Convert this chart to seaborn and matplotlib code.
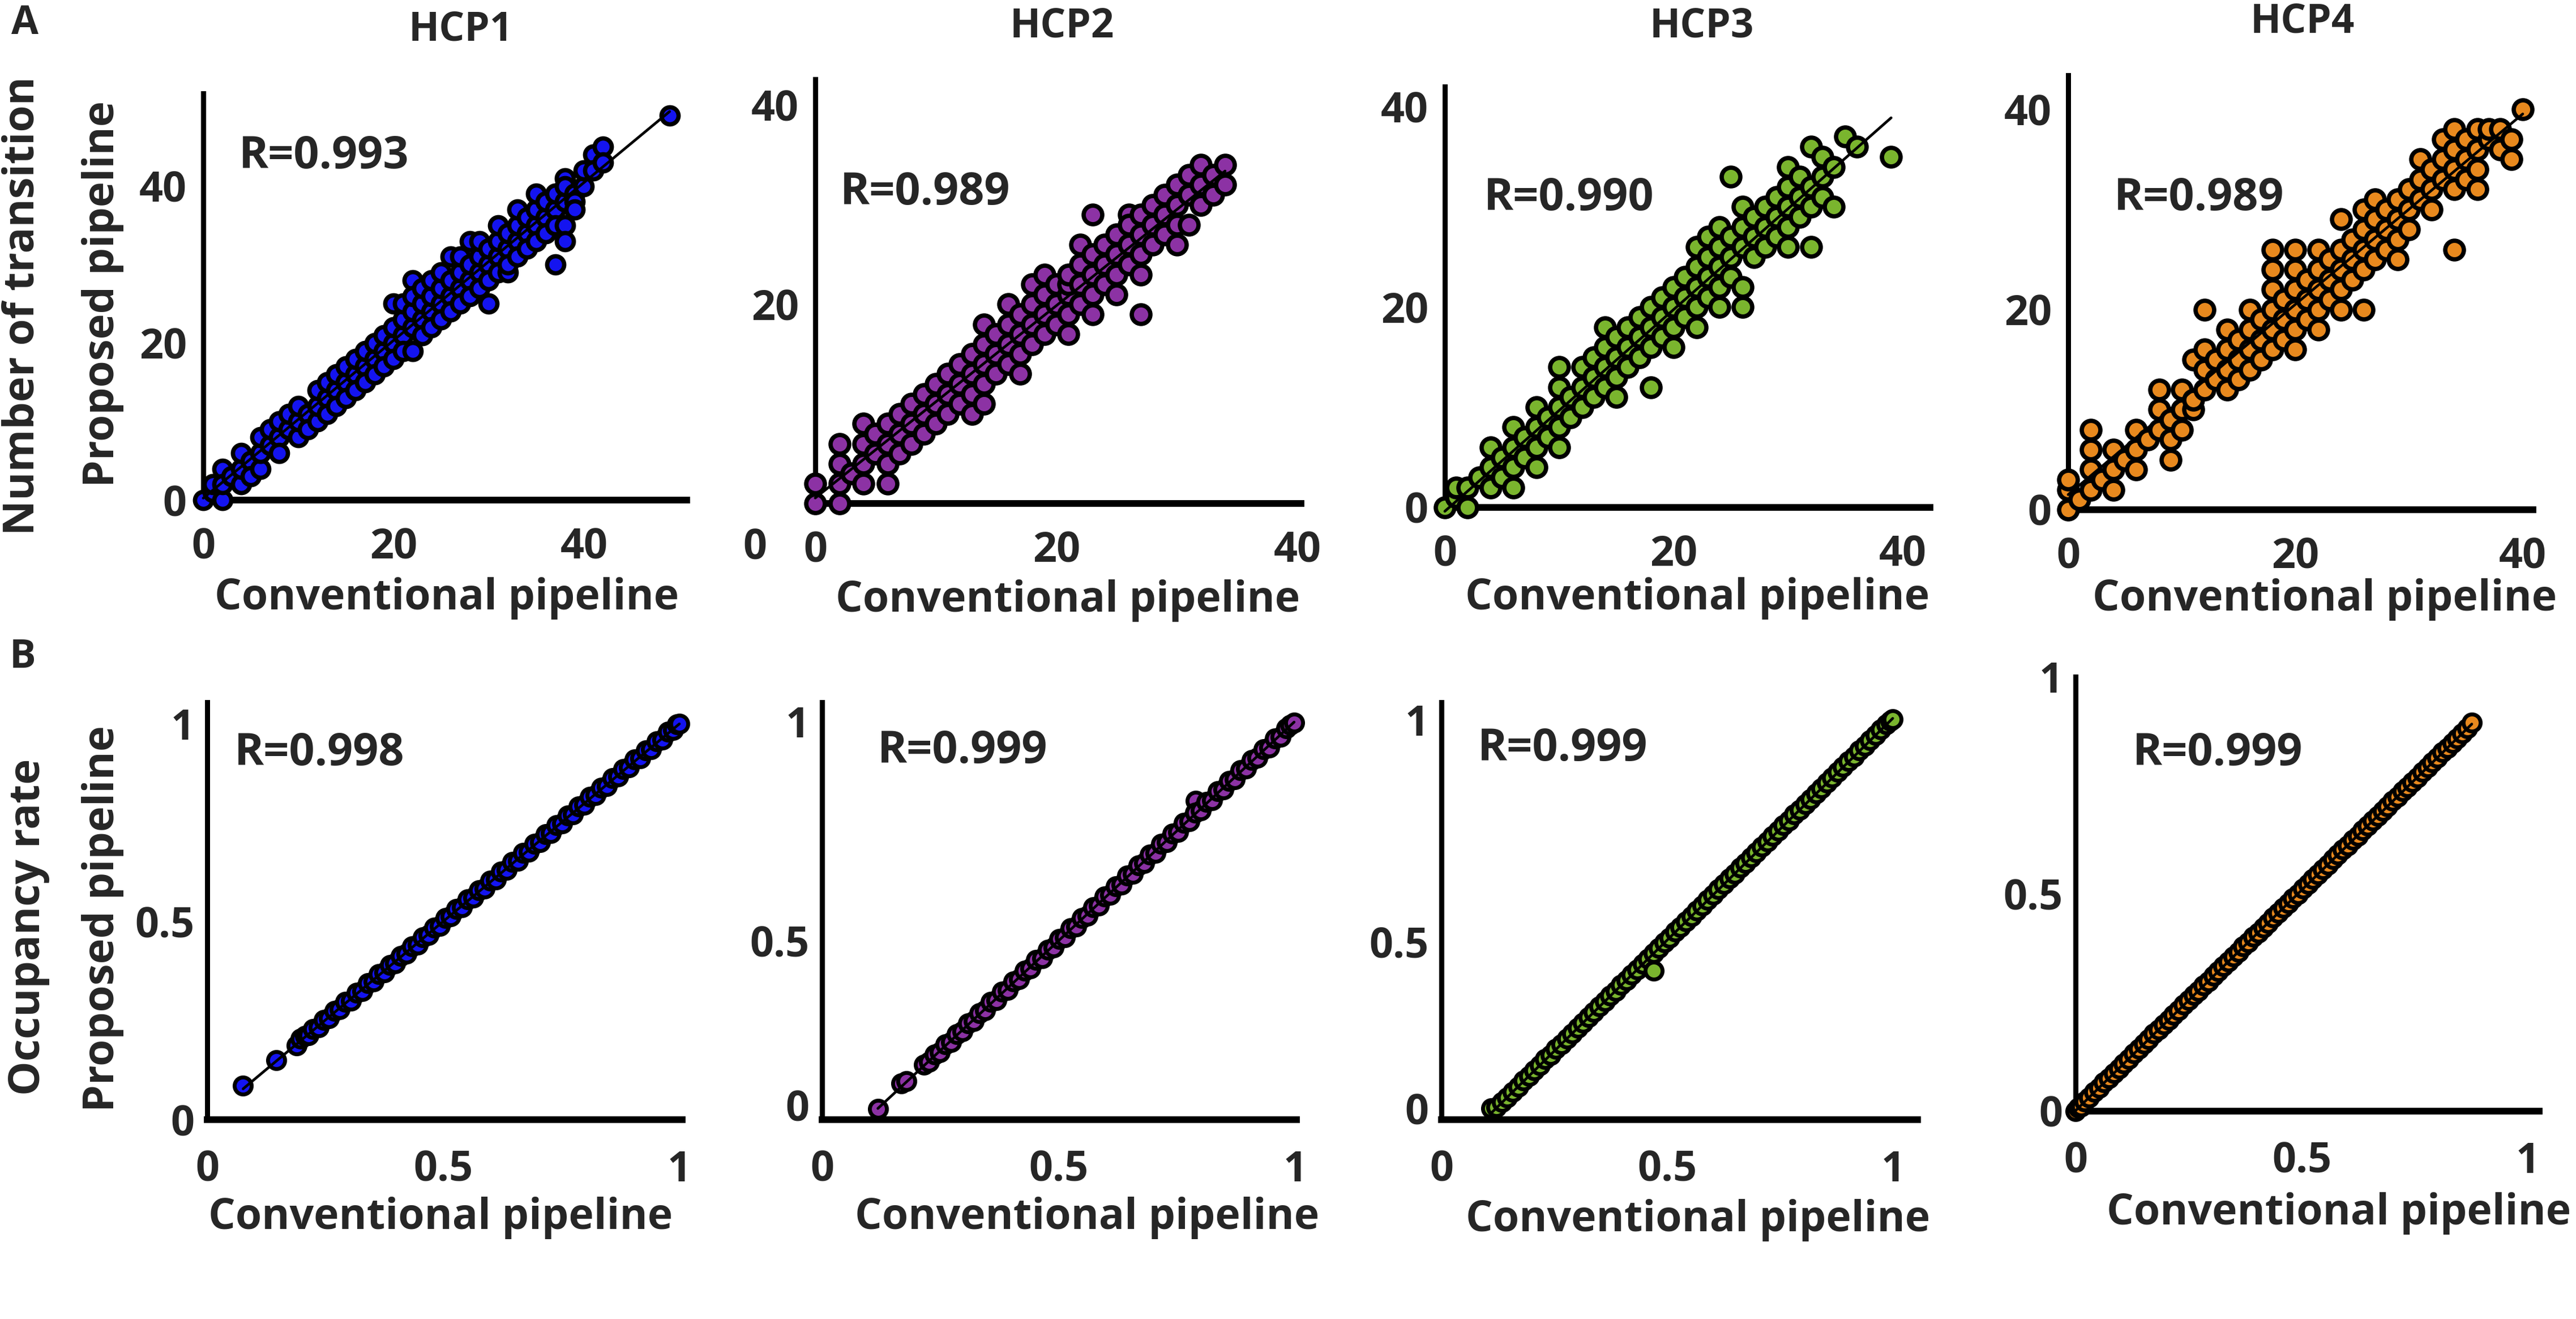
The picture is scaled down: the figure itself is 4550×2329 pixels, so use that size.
import numpy as np
import pandas as pd
import matplotlib
matplotlib.use("Agg")
import matplotlib.pyplot as plt
import seaborn as sns

# ---------------- data ----------------
panel_titles = ["HCP1", "HCP2", "HCP3", "HCP4"]
panel_colors = ["#1414F0", "#8C32A4", "#7AB52E", "#E8891E"]
r_transition = ["R=0.993", "R=0.989", "R=0.990", "R=0.989"]
r_occupancy = ["R=0.998", "R=0.999", "R=0.999", "R=0.999"]
row_names = ["Number of transition", "Occupancy rate"]
x_name = "Conventional pipeline"
y_name = "Proposed pipeline"
transition_ticks = [0, 20, 40]
occupancy_ticks = [0, 0.5, 1]
occupancy_tick_labels = ["0", "0.5", "1"]

# (conventional, proposed) number of transitions
hcp1_transition = [(0,0),(1,1),(2,0),(1,2),(2,4),(2,2),(3,3),(4,2),(4,4),(4,6),(5,5),(5,3),(6,4),(6,6),(6,8),
    (7,7),(7,9),(8,8),(8,10),(8,6),(9,9),(9,11),(10,8),(10,10),(10,12),(11,11),(11,9),(12,10),(12,12),(12,14),
    (13,13),(13,11),(13,15),(14,14),(14,16),(14,12),(15,15),(15,13),(15,17),(16,16),(16,18),(16,14),(17,17),
    (17,15),(17,19),(18,18),(18,20),(18,16),(19,19),(19,21),(19,17),(20,20),(20,22),(20,25),(20,18),(21,21),
    (21,23),(21,19),(21,25),(22,22),(22,19),(22,24),(22,28),(22,26),(23,23),(23,21),(23,25),(23,27),(24,24),
    (24,22),(24,26),(24,28),(25,25),(25,23),(25,27),(25,29),(26,26),(26,24),(26,28),(26,31),(27,27),(27,25),
    (27,29),(27,31),(28,28),(28,26),(28,30),(28,33),(29,29),(29,27),(29,31),(29,33),(30,30),(30,25),(30,28),
    (30,32),(31,31),(31,29),(31,33),(31,35),(32,32),(32,29),(32,34),(32,30),(33,33),(33,31),(33,35),(33,37),
    (34,34),(34,32),(34,36),(35,35),(35,33),(35,37),(35,39),(36,36),(36,34),(36,38),(37,37),(37,30),(37,35),
    (37,39),(38,38),(38,35),(38,33),(38,41),(38,40),(39,39),(39,38),(39,37),(40,40),(40,42),(41,44),(41,42),
    (42,45),(42,43),(49,49)]
hcp2_transition = [(0,0),(0,2),(2,0),(2,2),(2,4),(2,6),(3,3),(4,2),(4,4),(4,6),(4,8),(5,5),(5,7),(6,2),(6,4),
    (6,6),(6,8),(7,7),(7,9),(7,5),(8,6),(8,8),(8,10),(9,9),(9,7),(9,11),(10,8),(10,10),(10,12),(11,11),(11,9),
    (11,13),(12,10),(12,12),(12,14),(13,9),(13,13),(13,11),(13,15),(14,10),(14,12),(14,14),(14,18),(14,16),
    (15,13),(15,15),(15,17),(16,14),(16,16),(16,18),(16,20),(17,13),(17,17),(17,19),(17,15),(18,16),(18,18),
    (18,22),(18,20),(19,19),(19,21),(19,23),(19,17),(20,18),(20,20),(20,22),(21,17),(21,19),(21,21),(21,22),
    (21,23),(22,20),(22,22),(22,24),(22,26),(23,19),(23,21),(23,23),(23,25),(23,29),(24,22),(24,24),(24,26),
    (25,21),(25,23),(25,25),(25,27),(26,24),(26,26),(26,29),(26,28),(27,19),(27,23),(27,25),(27,27),(27,29),
    (28,26),(28,28),(28,30),(29,27),(29,29),(29,31),(30,26),(30,28),(30,30),(30,32),(31,28),(31,31),(31,33),
    (32,30),(32,32),(32,34),(33,31),(33,33),(34,32),(34,34)]
hcp3_transition = [(0,0),(1,1),(1,2),(2,0),(2,2),(3,3),(4,2),(4,4),(4,6),(5,5),(5,3),(6,2),(6,4),(6,6),(6,8),
    (7,7),(7,5),(8,4),(8,6),(8,8),(8,10),(9,9),(9,7),(10,6),(10,8),(10,10),(10,14),(10,12),(11,11),(11,9),
    (12,10),(12,12),(12,14),(13,13),(13,11),(13,15),(14,12),(14,14),(14,18),(14,16),(15,11),(15,15),(15,13),
    (15,17),(16,14),(16,16),(16,18),(17,17),(17,15),(17,19),(18,12),(18,16),(18,18),(18,20),(19,19),(19,17),
    (19,21),(20,16),(20,18),(20,20),(20,22),(21,21),(21,19),(21,23),(22,18),(22,20),(22,22),(22,24),(22,26),
    (23,23),(23,21),(23,25),(23,27),(24,20),(24,22),(24,24),(24,26),(24,28),(25,25),(25,23),(25,27),(25,33),
    (26,20),(26,22),(26,26),(26,28),(26,30),(27,27),(27,25),(27,29),(28,26),(28,28),(28,30),(29,29),(29,31),
    (29,27),(30,26),(30,28),(30,30),(30,32),(30,34),(31,31),(31,29),(31,33),(32,26),(32,30),(32,32),(32,36),
    (33,33),(33,35),(33,31),(34,30),(34,34),(35,37),(36,36),(39,35)]
hcp4_transition = [(0,0),(0,2),(0,3),(1,1),(2,2),(2,4),(2,6),(2,8),(3,3),(4,4),(4,6),(4,2),(5,5),(6,4),(6,6),
    (6,8),(7,7),(8,8),(8,10),(8,12),(9,5),(9,7),(9,9),(10,10),(10,12),(10,8),(11,10),(11,15),(11,11),(12,12),
    (12,14),(12,16),(12,20),(13,13),(13,15),(14,12),(14,14),(14,16),(14,18),(15,15),(15,13),(15,17),(16,14),
    (16,16),(16,18),(16,20),(17,17),(17,19),(17,15),(18,16),(18,18),(18,20),(18,22),(18,24),(18,26),(19,19),
    (19,21),(19,17),(20,16),(20,18),(20,20),(20,22),(20,24),(20,26),(21,21),(21,19),(21,23),(22,18),(22,20),
    (22,22),(22,24),(22,26),(23,23),(23,21),(23,25),(24,20),(24,22),(24,24),(24,26),(24,29),(25,25),(25,23),
    (25,27),(26,20),(26,24),(26,26),(26,28),(26,30),(27,27),(27,25),(27,29),(27,31),(28,26),(28,28),(28,30),
    (29,25),(29,29),(29,31),(29,27),(30,28),(30,30),(30,32),(31,31),(31,33),(31,35),(32,30),(32,32),(32,34),
    (33,33),(33,35),(33,37),(34,26),(34,32),(34,34),(34,36),(34,38),(35,35),(35,33),(35,37),(36,32),(36,34),
    (36,36),(36,38),(37,37),(37,38),(38,36),(38,38),(39,35),(39,37),(40,40)]

# (conventional, proposed) occupancy rate
hcp1_occupancy = [(0.076,0.086),(0.146,0.150),(0.190,0.188),(0.198,0.204),(0.207,0.211),(0.215,0.213),
    (0.224,0.229),(0.236,0.233),(0.247,0.251),(0.258,0.256),(0.270,0.274),(0.281,0.279),(0.293,0.297),
    (0.305,0.301),(0.316,0.320),(0.328,0.325),(0.340,0.344),(0.352,0.349),(0.363,0.367),(0.375,0.372),
    (0.387,0.391),(0.398,0.395),(0.410,0.414),(0.422,0.419),(0.434,0.438),(0.446,0.442),(0.457,0.461),
    (0.469,0.466),(0.481,0.485),(0.493,0.489),(0.505,0.509),(0.516,0.513),(0.528,0.532),(0.540,0.536),
    (0.552,0.556),(0.563,0.560),(0.575,0.579),(0.587,0.583),(0.599,0.603),(0.611,0.607),(0.622,0.626),
    (0.634,0.630),(0.646,0.650),(0.658,0.654),(0.669,0.673),(0.681,0.677),(0.693,0.697),(0.705,0.701),
    (0.717,0.721),(0.728,0.724),(0.740,0.744),(0.752,0.748),(0.764,0.768),(0.775,0.771),(0.787,0.791),
    (0.799,0.795),(0.811,0.815),(0.823,0.819),(0.834,0.838),(0.846,0.842),(0.858,0.862),(0.870,0.866),
    (0.881,0.885),(0.893,0.889),(0.905,0.909),(0.917,0.913),(0.929,0.933),(0.940,0.936),(0.952,0.956),
    (0.964,0.960),(0.976,0.980),(0.987,0.984),(0.995,0.998),(1.000,1.000)]
hcp2_occupancy = [(0.118,0.117),(0.168,0.176),(0.178,0.181),(0.215,0.218),(0.226,0.224),(0.238,0.241),
    (0.249,0.247),(0.261,0.265),(0.273,0.270),(0.285,0.288),(0.297,0.294),(0.309,0.313),(0.321,0.318),
    (0.333,0.336),(0.345,0.342),(0.357,0.361),(0.369,0.365),(0.381,0.385),(0.393,0.389),(0.405,0.408),
    (0.417,0.413),(0.429,0.433),(0.441,0.437),(0.453,0.457),(0.465,0.461),(0.477,0.480),(0.489,0.485),
    (0.501,0.505),(0.513,0.509),(0.525,0.529),(0.537,0.533),(0.549,0.553),(0.561,0.557),(0.573,0.577),
    (0.585,0.581),(0.597,0.601),(0.609,0.605),(0.621,0.625),(0.633,0.629),(0.645,0.649),(0.657,0.653),
    (0.669,0.673),(0.681,0.677),(0.693,0.697),(0.705,0.701),(0.717,0.721),(0.729,0.725),(0.741,0.745),
    (0.753,0.749),(0.765,0.769),(0.777,0.773),(0.790,0.820),(0.789,0.793),(0.801,0.797),(0.813,0.817),
    (0.825,0.821),(0.837,0.841),(0.849,0.845),(0.861,0.865),(0.873,0.869),(0.885,0.889),(0.897,0.893),
    (0.909,0.913),(0.921,0.917),(0.933,0.937),(0.945,0.941),(0.957,0.961),(0.969,0.965),(0.981,0.985),
    (0.990,0.992),(0.998,0.998)]
hcp3_occupancy = [(0.110,0.125),(0.122,0.128),(0.134,0.139),(0.146,0.150),(0.158,0.163),(0.170,0.174),
    (0.182,0.188),(0.194,0.198),(0.206,0.211),(0.218,0.222),(0.230,0.236),(0.242,0.246),(0.254,0.259),
    (0.266,0.270),(0.278,0.283),(0.290,0.294),(0.302,0.307),(0.314,0.318),(0.326,0.331),(0.338,0.342),
    (0.350,0.355),(0.362,0.366),(0.374,0.379),(0.386,0.390),(0.398,0.403),(0.410,0.414),(0.422,0.427),
    (0.434,0.438),(0.446,0.451),(0.458,0.462),(0.470,0.436),(0.470,0.475),(0.482,0.486),(0.494,0.499),
    (0.506,0.510),(0.518,0.523),(0.530,0.534),(0.542,0.547),(0.554,0.558),(0.566,0.571),(0.578,0.582),
    (0.590,0.595),(0.602,0.606),(0.614,0.619),(0.626,0.630),(0.638,0.643),(0.650,0.654),(0.662,0.667),
    (0.674,0.678),(0.686,0.691),(0.698,0.702),(0.710,0.715),(0.722,0.726),(0.734,0.739),(0.746,0.750),
    (0.758,0.763),(0.770,0.774),(0.782,0.787),(0.794,0.798),(0.806,0.811),(0.818,0.822),(0.830,0.835),
    (0.842,0.846),(0.854,0.859),(0.866,0.870),(0.878,0.883),(0.890,0.894),(0.902,0.907),(0.914,0.918),
    (0.926,0.931),(0.938,0.942),(0.950,0.955),(0.962,0.966),(0.974,0.979),(0.986,0.990),(0.995,0.998),
    (1.000,1.002)]
hcp4_occupancy = [(0.000,0.000),(0.006,0.008),(0.012,0.011),(0.020,0.022),(0.030,0.031),(0.041,0.044),
    (0.052,0.053),(0.063,0.066),(0.074,0.076),(0.085,0.088),(0.096,0.098),(0.107,0.110),(0.118,0.120),
    (0.129,0.133),(0.140,0.143),(0.151,0.155),(0.162,0.165),(0.173,0.178),(0.184,0.188),(0.195,0.200),
    (0.206,0.210),(0.217,0.222),(0.228,0.232),(0.239,0.245),(0.250,0.255),(0.261,0.267),(0.272,0.277),
    (0.283,0.289),(0.294,0.299),(0.305,0.312),(0.316,0.322),(0.327,0.334),(0.338,0.344),(0.349,0.356),
    (0.360,0.366),(0.371,0.379),(0.382,0.389),(0.393,0.401),(0.404,0.411),(0.415,0.423),(0.426,0.433),
    (0.437,0.446),(0.448,0.456),(0.459,0.468),(0.470,0.478),(0.481,0.490),(0.492,0.500),(0.503,0.513),
    (0.514,0.523),(0.525,0.535),(0.536,0.545),(0.547,0.557),(0.558,0.567),(0.569,0.580),(0.580,0.590),
    (0.591,0.602),(0.602,0.612),(0.613,0.624),(0.624,0.634),(0.635,0.647),(0.646,0.657),(0.657,0.669),
    (0.668,0.679),(0.679,0.691),(0.690,0.701),(0.701,0.714),(0.712,0.724),(0.723,0.736),(0.734,0.746),
    (0.745,0.758),(0.756,0.768),(0.767,0.781),(0.778,0.791),(0.789,0.803),(0.800,0.813),(0.811,0.826),
    (0.822,0.836),(0.833,0.848),(0.844,0.858),(0.855,0.870),(0.866,0.881),(0.876,0.894)]

transition_sets = [hcp1_transition, hcp2_transition, hcp3_transition, hcp4_transition]
occupancy_sets = [hcp1_occupancy, hcp2_occupancy, hcp3_occupancy, hcp4_occupancy]

# ---------------- layout (pixel boxes: left, right, top, bottom) ----------------
W, H = 4550, 2329
top_boxes = [(359, 1213, 165, 883), (1440, 2298, 140, 889), (2552, 3409, 153, 896), (3653, 4474, 133, 900)]
top_xlims = [(0, 50.8), (0, 40.3), (0, 42.4), (0, 40.9)]
top_ylims = [(0, 51.8), (0, 42.6), (0, 42.0), (0, 43.4)]
top_marker = [470, 560, 560, 560]
bot_boxes = [(366, 1205, 1240, 1977), (1452, 2290, 1240, 1977), (2546, 3387, 1240, 1977), (3666, 4485, 1195, 1962)]
bot_xlims = [(0, 1.006), (0, 1.003), (0, 1.055), (0, 1.025)]
bot_ylims = [(0, 1.054), (0.093, 1.044), (0.10, 1.04), (0, 1.0)]
bot_yticks = [[0, 0.5, 1], [0.126, 0.5, 1], [0.125, 0.5, 1], [0, 0.5, 1]]
r_pos_top = [(422, 277), (1484, 340), (2621, 351), (3734, 351)]
r_pos_bot = [(414, 1330), (1550, 1327), (2610, 1323), (3767, 1330)]
title_pos = [(814, 53), (1876, 46), (3006, 46), (4067, 39)]
xlab_top = [(789, 1056), (1886, 1060), (2998, 1056), (4106, 1058)]
xlab_bot = [(778, 2150), (1920, 2150), (2999, 2154), (4131, 2142)]

sns.set_style("white")
plt.rcParams["font.family"] = ["Open Sans", "DejaVu Sans"]
plt.rcParams["font.weight"] = "bold"

fig = plt.figure(figsize=(W / 100, H / 100), dpi=100)
fig.patch.set_facecolor("white")


def fx(p):
    return p / W


def fy(p):
    return 1 - p / H


def make_axes(box):
    l, r, t, b = box
    return fig.add_axes([fx(l), fy(b), (r - l) / W, (b - t) / H])


def style_axes(ax, xpad, ypad):
    for s in ["top", "right"]:
        ax.spines[s].set_visible(False)
    ax.spines["left"].set_linewidth(6.5)
    ax.spines["bottom"].set_linewidth(8.5)
    ax.spines["left"].set_color("black")
    ax.spines["bottom"].set_color("black")
    ax.tick_params(axis="x", direction="in", length=7, width=2, color="#b0b0b0",
                   pad=xpad, labelsize=53)
    ax.tick_params(axis="y", direction="in", length=7, width=2, color="#b0b0b0",
                   pad=ypad, labelsize=53)
    for lab in ax.get_xticklabels() + ax.get_yticklabels():
        lab.set_fontweight("bold")
    ax.set_xlabel("")
    ax.set_ylabel("")
    ax.set_facecolor("none")


def draw_panel(ax, pairs, color, size, ew):
    df = pd.DataFrame(pairs, columns=["conventional", "proposed"])
    sns.scatterplot(data=df, x="conventional", y="proposed", ax=ax, s=size, color=color,
                    edgecolor="black", linewidth=ew, clip_on=False, zorder=3, legend=False)
    sns.regplot(data=df, x="conventional", y="proposed", ax=ax, scatter=False, ci=None,
                truncate=True, line_kws=dict(color="black", lw=3.4, zorder=4, clip_on=False))


# ---- row A: number of transitions ----
for i in range(4):
    ax = make_axes(top_boxes[i])
    draw_panel(ax, transition_sets[i], panel_colors[i], top_marker[i], 5.5)
    ax.set_xlim(*top_xlims[i])
    ax.set_ylim(*top_ylims[i])
    ax.set_xticks(transition_ticks)
    ax.set_xticklabels([str(t) for t in transition_ticks])
    if i == 1:
        ax.set_yticks(transition_ticks[1:])
        ax.set_yticklabels([str(t) for t in transition_ticks[1:]])
    else:
        ax.set_yticks(transition_ticks)
        ax.set_yticklabels([str(t) for t in transition_ticks])
    style_axes(ax, 34, 21)
    fig.text(fx(r_pos_top[i][0]), fy(r_pos_top[i][1]), r_transition[i], fontsize=57,
             fontweight="bold", ha="left", va="center")
    fig.text(fx(title_pos[i][0]), fy(title_pos[i][1]), panel_titles[i], fontsize=51,
             fontweight="bold", ha="center", va="center")
    fig.text(fx(xlab_top[i][0]), fy(xlab_top[i][1]), x_name, fontsize=54,
             fontweight="bold", ha="center", va="center")

# stray y-axis "0" of HCP2 in the reference
fig.text(fx(1333), fy(968), "0", fontsize=53, fontweight="bold", ha="center", va="center")

# ---- row B: occupancy rate ----
for i in range(4):
    ax = make_axes(bot_boxes[i])
    draw_panel(ax, occupancy_sets[i], panel_colors[i], 470, 5.0)
    ax.set_xlim(*bot_xlims[i])
    ax.set_ylim(*bot_ylims[i])
    ax.set_xticks(occupancy_ticks)
    ax.set_xticklabels(occupancy_tick_labels)
    ax.set_yticks(bot_yticks[i])
    ax.set_yticklabels(occupancy_tick_labels)
    ax.set_yticks([0.2, 0.4, 0.6, 0.8], minor=True)
    ax.tick_params(axis="y", which="minor", direction="in", length=7, width=2, color="#b0b0b0")
    style_axes(ax, 38, 16)
    fig.text(fx(r_pos_bot[i][0]), fy(r_pos_bot[i][1]), r_occupancy[i], fontsize=57,
             fontweight="bold", ha="left", va="center")
    fig.text(fx(xlab_bot[i][0]), fy(xlab_bot[i][1]), x_name, fontsize=54,
             fontweight="bold", ha="center", va="center")

# row labels and panel letters
fig.text(fx(182), fy(519), y_name, fontsize=55, fontweight="bold", rotation=90, ha="center", va="center")
fig.text(fx(40), fy(540), row_names[0], fontsize=55, fontweight="bold", rotation=90, ha="center", va="center")
fig.text(fx(182), fy(1622), y_name, fontsize=55, fontweight="bold", rotation=90, ha="center", va="center")
fig.text(fx(51), fy(1637), row_names[1], fontsize=55, fontweight="bold", rotation=90, ha="center", va="center")
fig.text(fx(44), fy(42), "A", fontsize=50, fontweight="bold", ha="center", va="center")
fig.text(fx(40), fy(1161), "B", fontsize=50, fontweight="bold", ha="center", va="center")

fig.savefig("out.png", dpi=100, facecolor="white")
